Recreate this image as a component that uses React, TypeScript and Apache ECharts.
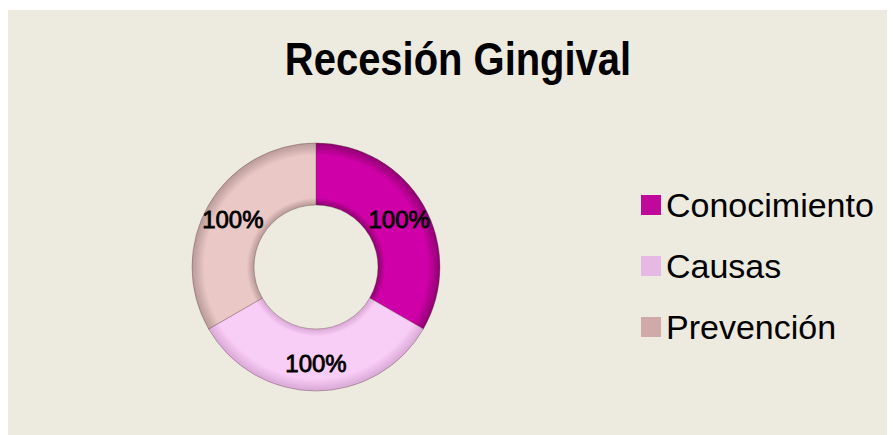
import React, { useEffect, useRef } from "react";
import * as echarts from "echarts";

const titleText = "Recesión Gingival";
const categories = ["Conocimiento", "Causas", "Prevención"];
const values = [100, 100, 100];
const baseColors = ["#CF00A8", "#F8CDF6", "#EAC8C6"];
const edgeColors = ["#8E0070", "#D9A8D6", "#B89A98"];
const legendColors = ["#C0089A", "#E6B8E4", "#CFAAA8"];

export default function App() {
  const ref = useRef<HTMLDivElement>(null);
  useEffect(() => {
    if (!ref.current) return;
    const chart = echarts.init(ref.current, null, { renderer: "svg" });
    const cx = 308;
    const cy = 257;
    const rOut = 124;
    const rIn = 62;
    const fill = (i: number) => ({
      type: "radial",
      x: cx,
      y: cy,
      r: rOut,
      global: true,
      colorStops: [
        { offset: 0, color: edgeColors[i] },
        { offset: rIn / rOut, color: edgeColors[i] },
        { offset: rIn / rOut + 0.06, color: baseColors[i] },
        { offset: 0.9, color: baseColors[i] },
        { offset: 1, color: edgeColors[i] },
      ],
    });
    chart.setOption({
      animation: false,
      backgroundColor: "#EDEAE0",
      graphic: [
        {
          type: "text",
          x: 450,
          y: 49,
          scaleX: 0.85,
          style: {
            text: titleText,
            align: "center",
            verticalAlign: "middle",
            fontFamily: "'Liberation Sans', sans-serif",
            fontWeight: "bold",
            fontSize: 47,
            fill: "#000",
          },
        },
      ],
      legend: {
        orient: "vertical",
        left: 628,
        top: 170,
        itemWidth: 20,
        itemHeight: 20,
        itemGap: 21,
        icon: "rect",
        data: categories.map((c, i) => ({ name: c, itemStyle: { color: legendColors[i] } })),
        textStyle: {
          fontFamily: "'Liberation Sans', sans-serif",
          fontSize: 34,
          lineHeight: 40,
          color: "#000",
        },
        itemStyle: { borderWidth: 0 },
      },
      series: [
        {
          type: "pie",
          center: [cx, cy],
          radius: [rIn, rOut],
          startAngle: 90,
          clockwise: true,
          silent: true,
          label: {
            show: true,
            position: "inside",
            formatter: "{c}%",
            fontFamily: "'Liberation Sans', sans-serif",
            fontSize: 24,
            color: "#000",
            textBorderColor: "#000",
            textBorderWidth: 0.8,
          },
          labelLine: { show: false },
          itemStyle: { borderColor: "rgba(90,60,60,0.35)", borderWidth: 1 },
          data: categories.map((c, i) => ({
            name: c,
            value: values[i],
            itemStyle: { color: fill(i) },
          })),
        },
      ],
    });
    return () => chart.dispose();
  }, []);
  return (
    <div
      ref={ref}
      style={{ width: 887, height: 425, marginTop: 2 }}
    />
  );
}
